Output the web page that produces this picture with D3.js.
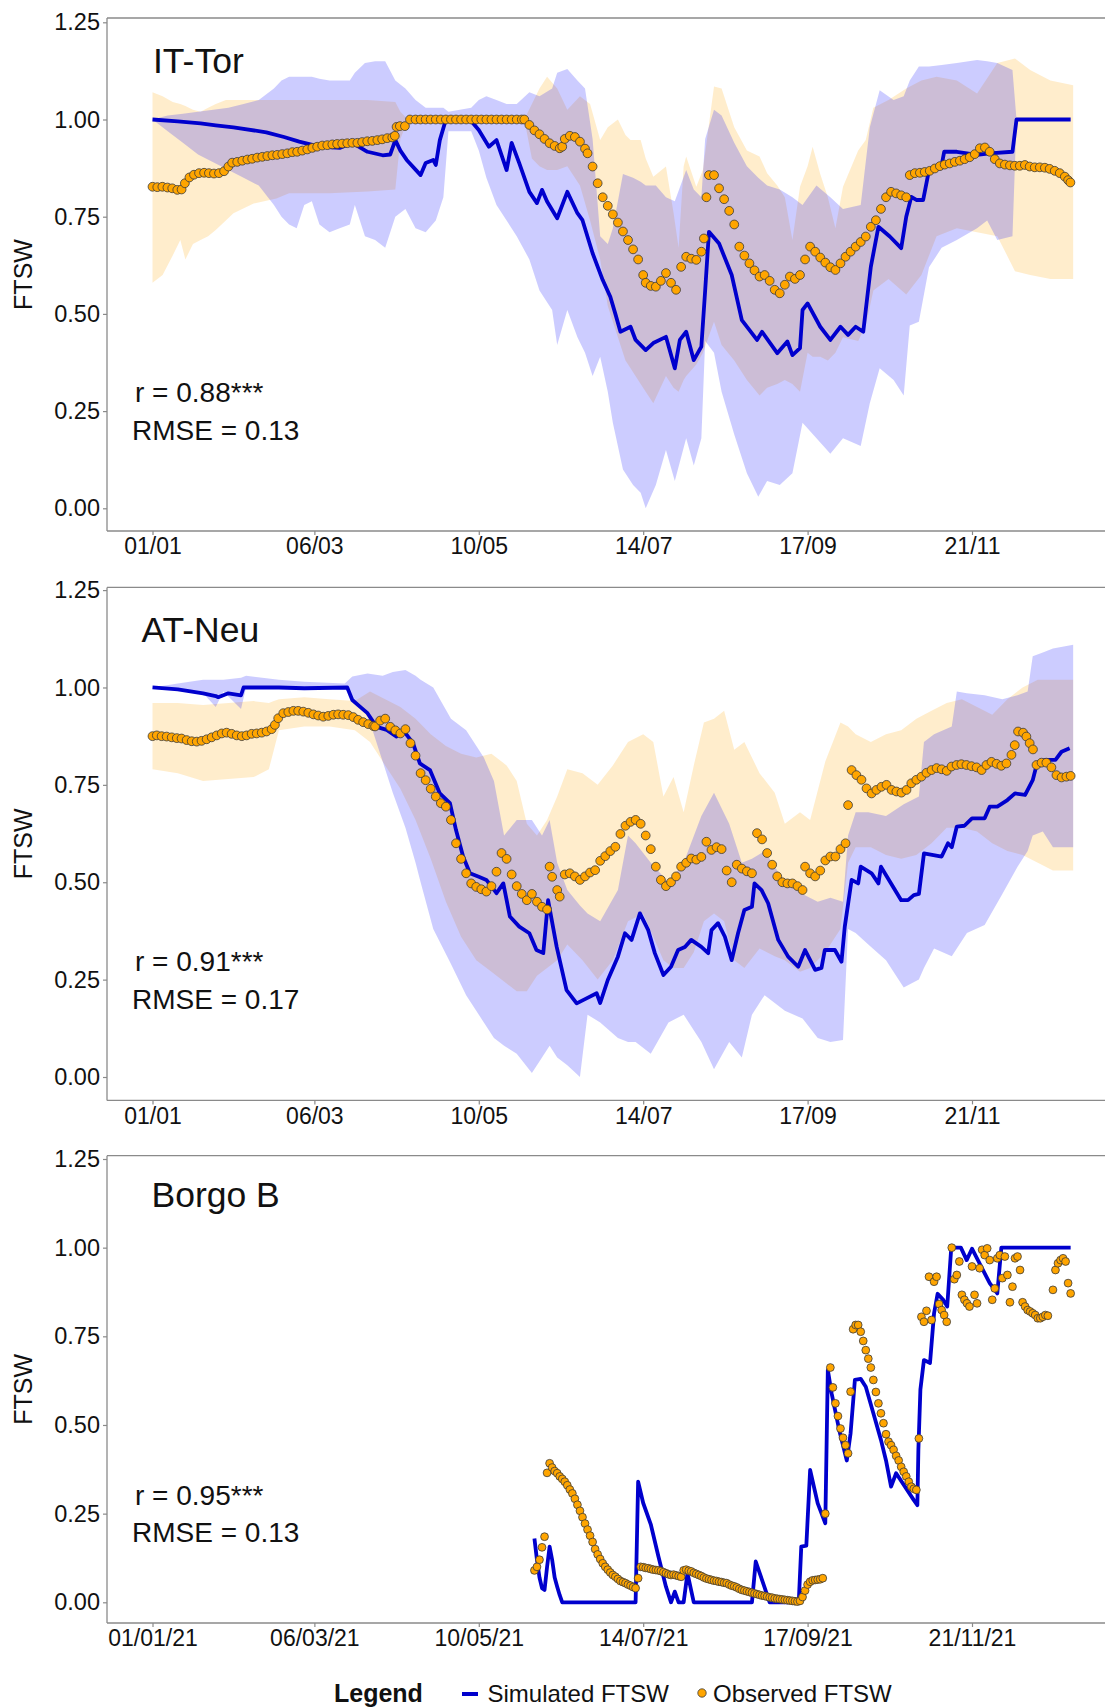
<!DOCTYPE html>
<html><head><meta charset="utf-8">
<script src="https://cdn.jsdelivr.net/npm/d3@7"></script>
<style>html,body{margin:0;padding:0;background:#fff}svg{display:block}</style>
</head><body>
<svg id="chart" width="1105" height="1707"></svg>
<script>
// ---------------- DATA (day of year 2021, value) ----------------
const xTickDates = ["2021-01-01","2021-03-06","2021-05-10","2021-07-14","2021-09-17","2021-11-21"];
const yTicks = [0, 0.25, 0.5, 0.75, 1.0, 1.25];
const panelTitles = ["IT-Tor", "AT-Neu", "Borgo B"];
const panelStats = [["r = 0.88***","RMSE = 0.13"],["r = 0.91***","RMSE = 0.17"],["r = 0.95***","RMSE = 0.13"]];
const legendLabels = ["Legend", "Simulated FTSW", "Observed FTSW"];

// IT-Tor
const p1Sim = [[0,1.0],[10,0.995],[19,0.99],[25,0.985],[32,0.98],[45,0.967],[52,0.955],[58,0.943],[66,0.93],[74,0.927],[79,0.94],[85,0.917],[91,0.908],[94,0.91],[96,0.947],[98,0.92],[100.5,0.896],[106,0.857],[108,0.888],[111,0.896],[112,0.883],[113.6,0.947],[116,1.0],[125.5,1.0],[129,0.973],[133,0.93],[136,0.947],[140,0.87],[142,0.94],[145,0.888],[149,0.814],[152,0.785],[154,0.819],[156,0.789],[160,0.746],[164,0.814],[168,0.759],[170,0.741],[174,0.656],[178,0.587],[181,0.544],[183,0.5],[185,0.454],[189,0.467],[191,0.433],[195,0.407],[198,0.425],[203,0.441],[206.5,0.36],[208.5,0.433],[211,0.454],[214,0.381],[217,0.416],[218.5,0.56],[220,0.711],[224,0.681],[229,0.6],[233,0.484],[239,0.433],[241,0.454],[247,0.399],[251,0.429],[253,0.394],[256,0.412],[257,0.51],[259,0.527],[264,0.467],[268,0.433],[272,0.467],[275,0.446],[278,0.467],[281,0.454],[282,0.51],[284,0.621],[287,0.724],[291.5,0.699],[296,0.669],[298,0.75],[300,0.801],[302,0.793],[304.7,0.793],[307,0.87],[312,0.883],[313,0.917],[318,0.917],[326,0.909],[331,0.913],[340,0.917],[341.6,1.0],[363,1.0]];
const p1Obs = [[0,0.827],[1.9,0.826],[3.9,0.827],[5.9,0.825],[7.8,0.823],[9.8,0.819],[11.5,0.82],[12.8,0.836],[14.6,0.851],[16.4,0.858],[18.4,0.862],[20.4,0.863],[22.3,0.862],[24.3,0.861],[26.3,0.862],[28.3,0.867],[30,0.879],[31.5,0.889],[33.5,0.891],[35.5,0.894],[37.5,0.897],[39.4,0.899],[41.4,0.902],[43.4,0.904],[45.4,0.906],[47.4,0.908],[49.3,0.909],[51.3,0.911],[53.3,0.913],[55.3,0.916],[57.2,0.917],[59.2,0.92],[61.2,0.923],[63.2,0.927],[65.1,0.93],[67.1,0.933],[69.1,0.934],[71.1,0.936],[73,0.937],[75,0.938],[77,0.939],[79,0.94],[81,0.94],[82.9,0.942],[84.9,0.944],[86.9,0.945],[88.9,0.947],[90.8,0.949],[92.8,0.952],[94.8,0.954],[95.8,0.958],[96.5,0.981],[97.8,0.983],[99.8,0.983],[101.8,1.0],[104,1.0],[106,1.0],[108,1.0],[110,1.0],[112,1.0],[114,1.0],[116,1.0],[118,1.0],[120,1.0],[122,1.0],[124,1.0],[126,1.0],[128,1.0],[130,1.0],[132,1.0],[134,1.0],[136,1.0],[138,1.0],[140,1.0],[142,1.0],[144,1.0],[146,1.0],[147,1.0],[149,0.986],[151,0.972],[153,0.962],[155,0.95],[157,0.939],[159,0.932],[161,0.926],[162,0.93],[163,0.95],[165,0.958],[167,0.955],[169,0.943],[171,0.925],[172,0.913],[174,0.879],[176,0.836],[178,0.8],[180,0.778],[182,0.756],[184,0.735],[186,0.712],[188,0.69],[190,0.666],[192,0.64],[194,0.6],[195,0.58],[197,0.572],[199,0.57],[201,0.585],[203,0.605],[205,0.58],[207,0.562],[209,0.621],[211,0.647],[213,0.642],[215,0.639],[217,0.66],[218,0.694],[219,0.8],[220,0.857],[222,0.857],[224,0.823],[226,0.795],[228,0.765],[230,0.73],[232,0.673],[234,0.65],[236,0.63],[238,0.612],[240,0.596],[242,0.6],[244,0.585],[246,0.562],[248,0.553],[250,0.575],[252,0.596],[254,0.59],[256,0.6],[258,0.64],[260,0.673],[262,0.66],[264,0.645],[266,0.632],[268,0.62],[270,0.613],[272,0.63],[274,0.647],[276,0.66],[278,0.673],[280,0.685],[282,0.699],[284,0.724],[286,0.741],[288,0.77],[290,0.8],[292,0.814],[294,0.81],[296,0.805],[298,0.8],[299.4,0.857],[301.4,0.862],[303.4,0.863],[305.3,0.865],[307.3,0.868],[309.3,0.874],[311.3,0.88],[313.2,0.884],[315.2,0.887],[317.2,0.891],[319.2,0.894],[321.1,0.898],[323.1,0.903],[325.1,0.911],[327.1,0.926],[329.1,0.928],[331,0.917],[333,0.898],[335,0.887],[337,0.884],[339,0.882],[340.9,0.881],[342.9,0.881],[344.9,0.883],[346.8,0.879],[348.8,0.877],[350.8,0.877],[352.8,0.876],[354.7,0.873],[356.7,0.868],[358.7,0.862],[360.7,0.853],[362,0.844],[362.9,0.838]];
// [day, low, high]
const p1SimBand = [[0,1.0,1.0],[6,0.97,1.01],[12,0.94,1.015],[18,0.91,1.02],[24,0.89,1.025],[30,0.87,1.03],[36,0.85,1.04],[42,0.83,1.05],[48,0.78,1.08],[51,0.75,1.1],[54,0.73,1.11],[57,0.72,1.11],[60,0.78,1.11],[63,0.79,1.11],[66,0.73,1.105],[70,0.71,1.1],[74,0.72,1.1],[78,0.73,1.1],[80,0.78,1.12],[84,0.7,1.145],[88,0.69,1.15],[92,0.67,1.15],[96,0.75,1.1],[100,0.77,1.08],[104,0.72,1.05],[108,0.71,1.03],[112,0.74,1.03],[115,0.8,1.03],[117,0.97,1.02],[126,0.97,1.03],[129,0.92,1.05],[132,0.85,1.06],[136,0.78,1.05],[140,0.74,1.04],[144,0.7,1.04],[149,0.64,1.07],[153,0.56,1.06],[158,0.51,1.08],[160,0.42,1.12],[164,0.51,1.13],[168,0.44,1.1],[171,0.4,1.08],[174,0.34,0.95],[177,0.39,0.7],[180,0.3,0.68],[182,0.22,0.72],[186,0.1,0.86],[190,0.06,0.85],[193,0.04,0.84],[195,0.0,0.83],[199,0.06,0.83],[203,0.15,0.8],[206.5,0.07,0.79],[211,0.18,0.87],[214,0.11,0.82],[217,0.18,0.8],[218.5,0.43,0.95],[222,0.4,1.025],[225,0.3,1.01],[230,0.19,0.94],[235,0.09,0.88],[239.5,0.03,0.85],[243,0.07,0.83],[248,0.06,0.82],[253,0.09,0.8],[257,0.22,0.78],[262.5,0.18,0.83],[268,0.14,0.8],[273,0.18,0.77],[280,0.16,0.78],[283.6,0.27,0.98],[287.5,0.36,1.075],[293,0.33,1.05],[297,0.29,1.06],[299.4,0.47,1.1],[303,0.48,1.136],[307,0.62,1.136],[312,0.67,1.14],[318,0.69,1.145],[326,0.72,1.153],[330,0.74,1.15],[334,0.69,1.145],[340,0.7,1.127],[341.6,1.0,1.0],[364,1.0,1.0]];
const p1ObsBand = [[0,0.58,1.07],[4,0.6,1.06],[8,0.65,1.045],[11,0.69,1.04],[13,0.64,1.035],[16,0.68,1.025],[19,0.69,1.02],[22,0.7,1.03],[25,0.716,1.04],[29,0.74,1.05],[32,0.759,1.05],[40,0.784,1.05],[49,0.797,1.05],[54,0.81,1.05],[70,0.81,1.05],[85,0.815,1.05],[96,0.82,1.045],[98,0.95,1.02],[101,1.0,1.0],[147,1.0,1.0],[150,0.9,1.04],[153,0.88,1.08],[156,0.87,1.11],[160,0.87,1.08],[164,0.88,1.025],[169,0.83,1.06],[173,0.74,1.04],[177,0.64,0.947],[180,0.52,0.98],[184,0.44,1.0],[187,0.38,0.96],[189,0.36,0.947],[193,0.32,0.947],[195,0.3,0.9],[198,0.27,0.853],[203,0.34,0.879],[206,0.31,0.76],[208,0.3,0.67],[210,0.33,0.88],[211,0.34,0.905],[215,0.37,0.827],[217.6,0.4,0.87],[222,0.48,1.085],[225,0.42,1.08],[230,0.38,0.98],[235,0.33,0.92],[240,0.29,0.905],[243,0.31,0.862],[247,0.32,0.83],[250,0.33,0.8],[253,0.32,0.69],[256,0.3,0.827],[259,0.4,0.88],[261,0.39,0.93],[264,0.39,0.86],[267,0.38,0.8],[270,0.4,0.72],[273,0.44,0.827],[279,0.43,0.92],[282,0.47,0.947],[285,0.56,1.03],[291,0.59,1.05],[298,0.55,1.08],[304,0.6,1.1],[310,0.7,1.11],[318,0.72,1.1],[326,0.71,1.067],[334,0.7,1.145],[341,0.61,1.157],[347,0.6,1.127],[355,0.59,1.1],[364,0.59,1.088]];

// AT-Neu
const p2Sim = [[0,1.0],[10,0.995],[20,0.985],[25,0.978],[26,0.975],[30,0.985],[35,0.98],[36,1.0],[50,1.0],[60,0.998],[77,1.0],[79,0.968],[82,0.951],[85,0.934],[88.6,0.899],[92.6,0.891],[96.5,0.874],[99,0.891],[103,0.857],[105.7,0.805],[109.7,0.788],[113.6,0.728],[117.6,0.703],[120,0.634],[122.8,0.566],[125.5,0.523],[129,0.514],[132,0.506],[136,0.472],[138.7,0.497],[141.3,0.412],[145,0.386],[149,0.369],[151.8,0.326],[154.5,0.318],[156.4,0.454],[159.8,0.334],[163.7,0.223],[167.7,0.189],[171.6,0.202],[175.6,0.215],[177,0.19],[180,0.249],[184,0.309],[186.8,0.369],[189.4,0.352],[192.7,0.42],[196,0.377],[198.6,0.318],[202,0.262],[205,0.283],[207.8,0.326],[210.5,0.334],[213,0.352],[217,0.334],[219.7,0.318],[221,0.377],[223.6,0.395],[226.3,0.36],[229,0.3],[231.5,0.369],[234,0.429],[237,0.437],[238,0.497],[240.8,0.48],[243.4,0.446],[247.4,0.352],[251.3,0.309],[255.3,0.283],[258,0.326],[262,0.275],[264.5,0.28],[265.8,0.326],[269.8,0.326],[272.4,0.296],[273.7,0.386],[276.4,0.506],[279,0.497],[280,0.54],[284.3,0.523],[287,0.497],[288,0.54],[292,0.497],[296,0.454],[298.7,0.454],[301,0.467],[303,0.47],[305,0.574],[312,0.566],[314.5,0.6],[316,0.59],[318,0.643],[321,0.645],[324,0.664],[329,0.664],[331,0.694],[334,0.694],[338,0.711],[341,0.728],[345,0.724],[348,0.762],[349.5,0.8],[352.8,0.814],[357,0.814],[359.4,0.835],[362.6,0.844]];
const p2Obs = [[0,0.875],[1.7,0.877],[3.6,0.875],[5.6,0.874],[7.6,0.872],[9.6,0.87],[11.5,0.869],[13.5,0.865],[15.5,0.862],[17.5,0.861],[19.4,0.863],[21.4,0.867],[23.4,0.872],[25.4,0.877],[27.4,0.882],[29.3,0.884],[31.3,0.881],[33.3,0.877],[35.3,0.875],[37.2,0.877],[39.2,0.881],[41.2,0.882],[43.2,0.884],[45.1,0.887],[47.1,0.893],[48.4,0.904],[49.7,0.921],[51.7,0.934],[53.7,0.937],[55.7,0.94],[57.6,0.94],[59.6,0.938],[61.6,0.935],[63.6,0.931],[65.5,0.928],[67.5,0.925],[69.5,0.927],[71.5,0.93],[73.4,0.931],[75.4,0.93],[77.4,0.929],[79.4,0.924],[81.3,0.917],[83.3,0.911],[85.3,0.906],[87.3,0.901],[88,0.9],[90,0.915],[92,0.92],[94,0.899],[96,0.89],[98,0.882],[100,0.893],[102,0.857],[104,0.825],[106,0.78],[108,0.762],[110,0.74],[112,0.72],[114,0.703],[116,0.694],[118,0.66],[120,0.6],[122,0.56],[124,0.523],[126,0.497],[128,0.488],[130,0.482],[132,0.476],[134,0.49],[136,0.527],[138,0.575],[140,0.56],[142,0.52],[144,0.49],[146,0.47],[148,0.454],[150,0.47],[152,0.45],[154,0.437],[156,0.43],[157,0.54],[158,0.514],[160,0.48],[161,0.463],[163,0.52],[165,0.523],[167,0.515],[169,0.506],[171,0.515],[173,0.525],[175,0.531],[177,0.555],[179,0.567],[181,0.58],[183,0.591],[185,0.624],[187,0.645],[189,0.655],[191,0.66],[193,0.65],[195,0.62],[197,0.585],[199,0.54],[201,0.506],[203,0.49],[205,0.5],[207,0.515],[209,0.54],[211,0.55],[213,0.561],[215,0.558],[217,0.565],[219,0.604],[221,0.583],[223,0.59],[225,0.585],[227,0.53],[229,0.5],[231,0.545],[233,0.535],[235,0.528],[237,0.523],[239,0.626],[241,0.61],[243,0.575],[245,0.545],[247,0.515],[249,0.5],[251,0.497],[253,0.497],[255,0.49],[257,0.48],[258,0.54],[260,0.523],[262,0.515],[264,0.53],[266,0.556],[268,0.566],[270,0.566],[272,0.585],[274,0.6],[275,0.698],[276.4,0.788],[278.3,0.775],[280.3,0.763],[282.3,0.741],[284.3,0.728],[286.2,0.737],[288.2,0.745],[290.2,0.75],[292.2,0.737],[294.1,0.733],[296.1,0.73],[298.1,0.737],[300,0.754],[302,0.763],[304,0.771],[306,0.781],[308,0.788],[310,0.793],[312,0.79],[314,0.786],[315.9,0.797],[317.9,0.801],[319.8,0.803],[321.8,0.801],[323.8,0.798],[325.8,0.795],[327.8,0.788],[329.7,0.801],[331.7,0.809],[333.7,0.804],[335.6,0.799],[337.6,0.805],[339.6,0.827],[340.9,0.852],[342.2,0.887],[344.2,0.884],[345.5,0.874],[346.8,0.857],[348.1,0.841],[349.5,0.801],[351.5,0.807],[353.4,0.807],[355.4,0.795],[357.4,0.775],[359.4,0.769],[361.3,0.771],[363,0.773]];
const p2SimBand = [[0,1.0,1.0],[10,0.995,1.01],[20,0.985,1.02],[25,0.95,1.02],[28,0.99,1.02],[35,0.945,1.025],[37,1.0,1.03],[50,1.0,1.02],[60,1.0,1.015],[76,1.0,1.01],[79,0.97,1.028],[85,0.93,1.036],[91,0.81,1.03],[95,0.73,1.04],[100,0.64,1.045],[104,0.55,1.03],[106,0.5,1.02],[111,0.38,1.0],[118,0.29,0.92],[124,0.21,0.89],[131,0.14,0.82],[135,0.1,0.76],[139,0.08,0.62],[144,0.06,0.66],[150,0.01,0.66],[154,0.05,0.62],[157,0.08,0.66],[160,0.05,0.55],[164,0.03,0.48],[169,0.0,0.44],[172,0.16,0.42],[177,0.14,0.4],[184,0.1,0.48],[188,0.09,0.62],[191,0.09,0.6],[197,0.06,0.55],[204,0.14,0.5],[210,0.16,0.55],[217,0.09,0.67],[222,0.02,0.73],[228,0.09,0.65],[233,0.05,0.55],[237,0.16,0.56],[242,0.21,0.58],[250,0.17,0.5],[257,0.15,0.47],[263,0.1,0.45],[268,0.09,0.46],[273,0.095,0.45],[275,0.38,0.62],[278,0.37,0.68],[283,0.34,0.68],[290,0.3,0.67],[297,0.23,0.7],[303,0.25,0.72],[305,0.28,0.86],[309,0.33,0.88],[316,0.31,0.9],[318,0.33,0.99],[322,0.37,0.985],[329,0.39,0.98],[336,0.47,0.97],[342,0.54,0.98],[346,0.58,0.99],[348,0.62,1.08],[352,0.63,1.09],[356,0.59,1.1],[364,0.59,1.11]];
const p2ObsBand = [[0,0.79,0.96],[10,0.78,0.96],[20,0.76,0.955],[30,0.765,0.96],[40,0.77,0.965],[46,0.79,0.96],[48,0.84,0.965],[50,0.89,0.97],[60,0.9,0.975],[70,0.9,0.97],[80,0.89,0.965],[86,0.86,0.99],[92,0.8,0.97],[98,0.74,0.95],[104,0.66,0.92],[110,0.56,0.88],[116,0.45,0.85],[122,0.36,0.83],[128,0.3,0.82],[134,0.27,0.83],[140,0.24,0.8],[144,0.22,0.76],[148,0.22,0.65],[152,0.26,0.62],[156,0.28,0.66],[160,0.3,0.72],[164,0.34,0.79],[170,0.3,0.78],[176,0.25,0.75],[182,0.3,0.8],[188,0.4,0.86],[194,0.42,0.88],[198,0.36,0.86],[202,0.3,0.72],[206,0.28,0.77],[210,0.28,0.68],[214,0.32,0.8],[218,0.4,0.91],[222,0.42,0.92],[226,0.4,0.94],[230,0.3,0.84],[234,0.28,0.86],[240,0.33,0.78],[246,0.31,0.73],[250,0.3,0.65],[256,0.27,0.68],[260,0.28,0.66],[266,0.32,0.81],[272,0.38,0.91],[275,0.55,0.9],[278,0.59,0.88],[284,0.59,0.86],[290,0.57,0.88],[296,0.56,0.89],[302,0.57,0.92],[308,0.6,0.94],[314,0.64,0.96],[320,0.64,0.97],[326,0.63,0.95],[332,0.6,0.93],[338,0.58,0.97],[344,0.57,1.0],[350,0.55,1.02],[356,0.53,1.02],[364,0.53,1.02]];

// Borgo B
const p3Sim = [[151,0.18],[152,0.12],[153,0.07],[154,0.04],[155,0.035],[156,0.1],[157,0.157],[158,0.12],[159,0.07],[160,0.044],[161,0.02],[162,0.0],[191,0.0],[192,0.34],[194,0.28],[197,0.22],[200,0.13],[203,0.044],[205,0.0],[206.5,0.03],[208,0.0],[210,0.0],[211.5,0.082],[214,0.0],[237,0.0],[238.5,0.115],[244,0.0],[255.5,0.0],[256.5,0.157],[258.5,0.16],[260,0.373],[263,0.279],[266,0.223],[267,0.655],[268.5,0.589],[271.5,0.486],[274.5,0.4],[276,0.477],[277.7,0.627],[280,0.63],[282,0.608],[285,0.533],[288,0.458],[290,0.4],[292,0.326],[294,0.364],[301,0.288],[302.4,0.274],[302.8,0.43],[303.6,0.6],[305,0.683],[307.4,0.675],[309,0.815],[310.4,0.87],[312.7,0.852],[314.2,0.834],[315.8,1.0],[319.6,1.0],[321.9,0.965],[324,0.997],[331,0.9],[334,0.871],[335.6,1.0],[363,1.0]];
const p3Obs = [[151,0.09],[152,0.1],[153,0.12],[154,0.155],[155,0.185],[156,0.365],[157,0.392],[158,0.38],[159,0.37],[160,0.364],[161,0.355],[162,0.348],[163,0.34],[164,0.33],[165,0.318],[166,0.307],[167,0.292],[168,0.275],[169,0.258],[170,0.24],[171,0.222],[172,0.205],[173,0.188],[174,0.17],[175,0.15],[176,0.135],[177,0.122],[178,0.11],[179,0.1],[180,0.092],[181,0.084],[182,0.077],[183,0.072],[184,0.066],[185,0.06],[186,0.057],[187,0.054],[188,0.05],[189,0.047],[190,0.043],[191,0.04],[192,0.068],[193,0.1],[194,0.099],[195,0.097],[196,0.096],[197,0.094],[198,0.092],[199,0.091],[200,0.09],[201,0.088],[202,0.085],[203,0.082],[204,0.079],[205,0.077],[206,0.078],[207,0.076],[208,0.074],[209,0.072],[210,0.09],[211,0.092],[212,0.089],[213,0.087],[214,0.083],[215,0.08],[216,0.077],[217,0.074],[218,0.07],[219,0.067],[220,0.065],[221,0.063],[222,0.061],[223,0.06],[224,0.058],[225,0.057],[226,0.055],[227,0.054],[228,0.05],[229,0.047],[230,0.045],[231,0.042],[232,0.038],[233,0.035],[234,0.033],[235,0.031],[236,0.029],[237,0.027],[238,0.025],[239,0.023],[240,0.021],[241,0.019],[242,0.018],[243,0.016],[244,0.014],[245,0.013],[246,0.011],[247,0.01],[248,0.009],[249,0.008],[250,0.007],[251,0.006],[252,0.005],[253,0.004],[254,0.003],[255,0.002],[256,0.004],[257,0.015],[258,0.033],[259,0.05],[260,0.058],[261,0.062],[262,0.063],[263,0.064],[264,0.065],[265,0.068],[266,0.25],[268,0.662],[269,0.606],[270,0.561],[271,0.525],[272,0.49],[273,0.464],[274,0.443],[275,0.42],[276,0.594],[277,0.77],[278,0.782],[279,0.782],[280,0.763],[281,0.737],[282,0.711],[283,0.687],[284,0.662],[285,0.627],[286,0.593],[287,0.561],[288,0.533],[289,0.505],[290,0.474],[291,0.453],[292,0.443],[293,0.43],[294,0.413],[295,0.4],[296,0.382],[297,0.368],[298,0.355],[299,0.34],[300,0.326],[301,0.32],[302,0.317],[303,0.462],[304,0.805],[305,0.791],[306,0.822],[307,0.918],[308,0.796],[309,0.904],[310,0.918],[311,0.841],[312,0.824],[313,0.81],[314,0.791],[316,1.0],[317,0.911],[318,0.923],[319,0.961],[320,0.867],[321,0.853],[322,0.843],[323,0.834],[324,0.947],[325,0.867],[326,0.843],[327,0.942],[328,0.994],[329,0.979],[330,0.998],[331,0.965],[332,0.853],[333,0.885],[334,0.97],[335,0.979],[336,0.914],[337,0.975],[338,0.923],[339,0.846],[340,0.89],[341,0.97],[342,0.975],[343,0.937],[344,0.846],[345,0.834],[346,0.824],[347,0.82],[348,0.815],[349,0.81],[350,0.801],[351,0.801],[352,0.805],[353,0.81],[354,0.808],[356,0.881],[357,0.937],[358,0.956],[359,0.965],[360,0.97],[361,0.961],[362,0.9],[363,0.871]];

// ---------------- DRAWING ----------------
const FONT = "'Liberation Sans', Arial, Helvetica, sans-serif";
const BLUE = "#0000CD", ORANGE = "#FFA500", AXIS = "#8a8a8a", TXT = "#111";
const svg = d3.select("#chart");
const parse = d3.utcParse("%Y-%m-%d");
const t0 = Date.UTC(2021, 0, 1);
const day = d => new Date(t0 + d * 864e5);
const x = d3.scaleUtc().domain([parse(xTickDates[0]), parse(xTickDates[5])]).range([152.5, 972]);
const X0 = 107, X1 = 1105;

const panels = [
  {top: 18, bottom: 531, y0: 508.3, y1: 22.3, sim: p1Sim, obs: p1Obs, simBand: p1SimBand, obsBand: p1ObsBand,
   titleX: 153, titleY: 73, statY: [401.7, 440], r: 4.4, fmt: "%d/%m", title: panelTitles[0], stats: panelStats[0]},
  {top: 587.4, bottom: 1100.4, y0: 1077, y1: 590.1, sim: p2Sim, obs: p2Obs, simBand: p2SimBand, obsBand: p2ObsBand,
   titleX: 141.5, titleY: 642, statY: [970.5, 1009], r: 4.4, fmt: "%d/%m", title: panelTitles[1], stats: panelStats[1]},
  {top: 1155.7, bottom: 1623, y0: 1602.3, y1: 1159, sim: p3Sim, obs: p3Obs, simBand: null, obsBand: null,
   titleX: 151.5, titleY: 1206.5, statY: [1505, 1542], r: 3.9, fmt: "%d/%m/%y", title: panelTitles[2], stats: panelStats[2]}
];

panels.forEach((p, i) => {
  const y = d3.scaleLinear().domain([0, 1.25]).range([p.y0, p.y1]);
  const g = svg.append("g");
  const clipId = "clip" + i;
  svg.append("clipPath").attr("id", clipId).append("rect")
    .attr("x", X0).attr("y", p.top).attr("width", X1 - X0).attr("height", p.bottom - p.top);
  const plot = g.append("g").attr("clip-path", `url(#${clipId})`);

  if (p.obsBand) {
    const area = d3.area().x(d => x(day(d[0]))).y0(d => y(d[1])).y1(d => y(d[2]));
    plot.append("path").datum(p.obsBand).attr("d", area).attr("fill", ORANGE).attr("fill-opacity", 0.2);
    plot.append("path").datum(p.simBand).attr("d", area).attr("fill", "#0000FF").attr("fill-opacity", 0.2);
  }
  const line = d3.line().x(d => x(day(d[0]))).y(d => y(d[1]));
  plot.append("path").datum(p.sim).attr("d", line).attr("fill", "none")
    .attr("stroke", BLUE).attr("stroke-width", 3.8).attr("stroke-linejoin", "round");
  plot.append("g").selectAll("circle").data(p.obs).join("circle")
    .attr("cx", d => x(day(d[0]))).attr("cy", d => y(d[1])).attr("r", p.r)
    .attr("fill", ORANGE).attr("stroke", "#3a3a3a").attr("stroke-width", 0.8);

  // frame lines
  g.append("line").attr("x1", X0).attr("x2", X1).attr("y1", p.top).attr("y2", p.top).attr("stroke", AXIS).attr("stroke-width", 1.3);
  g.append("line").attr("x1", X0).attr("x2", X1).attr("y1", p.bottom).attr("y2", p.bottom).attr("stroke", AXIS).attr("stroke-width", 1.3);
  g.append("line").attr("x1", X0).attr("x2", X0).attr("y1", p.top).attr("y2", p.bottom).attr("stroke", AXIS).attr("stroke-width", 1.3);

  // y axis
  const ya = g.append("g").attr("transform", `translate(${X0},0)`)
    .call(d3.axisLeft(y).tickValues(yTicks).tickFormat(d3.format(".2f")).tickSize(4).tickPadding(3));
  ya.select(".domain").remove();
  ya.selectAll("line").attr("stroke", AXIS).attr("stroke-width", 1.2);
  ya.selectAll("text").attr("font-family", FONT).attr("font-size", 23.5).attr("fill", TXT);

  // x axis
  const xa = g.append("g").attr("transform", `translate(0,${p.bottom})`)
    .call(d3.axisBottom(x).tickValues(xTickDates.map(parse)).tickFormat(d3.utcFormat(p.fmt)).tickSize(4).tickPadding(3));
  xa.select(".domain").remove();
  xa.selectAll("line").attr("stroke", AXIS).attr("stroke-width", 1.2);
  xa.selectAll("text").attr("font-family", FONT).attr("font-size", 23).attr("fill", TXT);

  // y label
  g.append("text").attr("transform", `translate(32,${(p.top + p.bottom) / 2}) rotate(-90)`)
    .attr("text-anchor", "middle").attr("font-family", FONT).attr("font-size", 25).attr("fill", TXT).text("FTSW");

  // title
  g.append("text").attr("x", p.titleX).attr("y", p.titleY).attr("font-family", FONT)
    .attr("font-size", 35.5).attr("fill", TXT).text(p.title);
  // stats
  g.append("text").attr("x", 135).attr("y", p.statY[0]).attr("font-family", FONT)
    .attr("font-size", 28).attr("fill", TXT).text(p.stats[0]);
  g.append("text").attr("x", 132).attr("y", p.statY[1]).attr("font-family", FONT)
    .attr("font-size", 28).attr("fill", TXT).text(p.stats[1]);
});

// legend
const lg = svg.append("g");
lg.append("text").attr("x", 334).attr("y", 1701.5).attr("font-family", FONT).attr("font-weight", "bold")
  .attr("font-size", 25).attr("fill", TXT).text(legendLabels[0]);
lg.append("line").attr("x1", 462).attr("x2", 478).attr("y1", 1694).attr("y2", 1694).attr("stroke", BLUE).attr("stroke-width", 4);
lg.append("text").attr("x", 487.5).attr("y", 1701.5).attr("font-family", FONT).attr("font-size", 24).attr("fill", TXT).text(legendLabels[1]);
lg.append("circle").attr("cx", 702).attr("cy", 1693).attr("r", 4.2).attr("fill", ORANGE).attr("stroke", "#3a3a3a").attr("stroke-width", 0.8);
lg.append("text").attr("x", 713).attr("y", 1701.5).attr("font-family", FONT).attr("font-size", 24).attr("fill", TXT).text(legendLabels[2]);
</script>
</body></html>
